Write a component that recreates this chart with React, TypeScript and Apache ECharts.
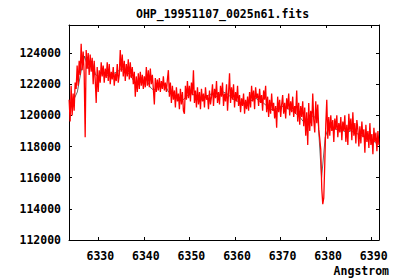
import React, { useEffect, useRef } from "react";
import * as echarts from "echarts";

const titleText = "OHP_19951107_0025n61.fits";
const xAxisName = "Angstrom";

const xTicks = [6330, 6340, 6350, 6360, 6370, 6380, 6390];
const yTicks = [112000, 114000, 116000, 118000, 120000, 122000, 124000];

// red spectrum: wavelength grid start / step (Angstrom)
const redStart = 6323.6;
const redStep = 0.22;
const redValues = [
  121000, 119600, 121900, 120000, 121400, 120300, 122100, 121700, 123200, 121900,
  123500, 122600, 124600, 122900, 124100, 122700, 118600, 124200, 123000, 124000,
  122600, 123900, 122800, 123700, 122000, 123500, 122300, 120800, 123100, 121500,
  122900, 122100, 123400, 122500, 123200, 122100, 123000, 122400, 123400, 122200,
  123300, 122000, 122800, 122300, 123100, 121900, 122700, 122200, 123300, 122100,
  122600, 124200, 122800, 123900, 122500, 123500, 122200, 123300, 122500, 123600,
  122300, 123400, 122400, 123100, 122000, 122800, 121200, 122500, 121500, 122700,
  121700, 122800, 121900, 122600, 121700, 122500, 121800, 123100, 121900, 122900,
  121800, 123000, 122000, 122600, 121700, 120700, 122400, 121500, 122300, 121600,
  122400, 121500, 122200, 121700, 122500, 121600, 122100, 121500, 122300, 122900,
  121200, 122100, 120800, 121900, 121000, 121600, 120500, 121800, 120900, 121400,
  120400, 121700, 120700, 121500, 120300, 120100, 121900, 121000, 122200, 121100,
  121900, 120900, 122100, 121300, 122900, 120800, 121600, 120500, 121800, 120700,
  121500, 120400, 121700, 120900, 121400, 120500, 121800, 121000, 121300, 120400,
  121600, 120700, 121200, 122000, 120600, 121700, 121100, 122200, 120800, 121500,
  120700, 121900, 121200, 122100, 120600, 121400, 120900, 122000, 120300, 121400,
  122700, 120800, 121800, 121000, 122000, 120500, 121500, 120900, 121900, 120600,
  121300, 120200, 121100, 120600, 121400, 120100, 121000, 120400, 121200, 120300,
  121500, 120500, 121900, 120900, 121600, 120400, 121800, 121100, 121400, 120600,
  121700, 120800, 121300, 120300, 121600, 121000, 121900, 120200, 121200, 119900,
  121000, 120100, 121400, 120300, 120800, 119800, 120600, 119200, 121200, 120200,
  121000, 119900, 120700, 121300, 120100, 120800, 119800, 121100, 120400, 121400,
  120000, 120900, 120200, 121200, 119900, 120600, 120100, 121600, 119600, 120800,
  119400, 120600, 119900, 120900, 119300, 120500, 118700, 120200, 118100, 120800,
  119000, 120300, 119300, 121400, 119700, 118900, 120900, 119500, 120700, 119100,
  118500, 117800, 115300, 114300, 114700, 116900, 119400, 121000, 118500, 119900,
  118700, 120000, 119000, 119700, 118300, 119800, 119100, 120000, 118600, 119500,
  118900, 119900, 118400, 119600, 119000, 120000, 118300, 119400, 118100, 120100,
  119000, 119800, 118400, 120200, 118700, 119500, 118200, 119700, 119100, 118000,
  119300, 118200, 119600, 118600, 119100, 117600, 119400, 118300, 119000, 117900,
  119500, 118100, 118800, 117500, 119200, 118300, 118900, 117700, 119000, 118100,
];

// black spectrum
const blackStart = 6323.8;
const blackStep = 0.8;
const blackValues = [
  120500, 121000, 121500, 122800, 123800, 123000, 123500, 122600, 122500, 122800,
  122600, 122500, 122700, 122800, 123000, 122900, 122700, 122400, 122000, 122100,
  122200, 122300, 121800, 121600, 121900, 121900, 122000, 121500, 121300, 121200,
  121000, 121000, 121200, 121500, 121300, 121100, 121000, 121200, 121300, 121400,
  121200, 121300, 121500, 121400, 121200, 121000, 120900, 120800, 120700, 120800,
  121000, 121100, 120900, 120800, 120600, 120400, 120300, 120500, 120600, 120500,
  120400, 120300, 120100, 119900, 119600, 119700, 120000, 119900, 119800, 116000,
  118600, 119300, 119200, 119100, 119000, 119000, 118900, 119000, 118900, 118800,
  118700, 118600, 118500, 118400, 118200,
];

const FONT = "DejaVu Sans Mono";

export default function App() {
  const ref = useRef<HTMLDivElement>(null);
  useEffect(() => {
    if (!ref.current) return;
    const chart = echarts.init(ref.current, null, { renderer: "svg" });
    const red = redValues.map((v, i) => [+(redStart + i * redStep).toFixed(3), v]);
    const black = blackValues.map((v, i) => [+(blackStart + i * blackStep).toFixed(3), v]);
    const labelStyle = {
      fontFamily: FONT,
      fontSize: 11.5,
      fontWeight: "bold" as const,
      color: "#000",
    };
    const plain = (v: number) => String(v);
    const axisLine = { show: true, lineStyle: { color: "#000", width: 1 } };
    const tick = (vals: number[]) => ({
      show: true,
      inside: true,
      length: 3,
      customValues: vals,
      lineStyle: { color: "#000" },
    });
    chart.setOption({
      animation: false,
      backgroundColor: "#fff",
      title: {
        text: titleText,
        left: 136,
        top: 8,
        padding: 0,
        textStyle: labelStyle,
      },
      grid: { left: 69, right: 21, top: 25, bottom: 40 },
      xAxis: [
        {
          type: "value",
          min: 6323.57,
          max: 6391.6,
          position: "bottom",
          axisLine,
          splitLine: { show: false },
          axisTick: tick(xTicks),
          axisLabel: {
            ...labelStyle,
            customValues: xTicks,
            formatter: plain,
            margin: 10,
            padding: [0, 0, 0, 4],
          },
        },
        {
          type: "value",
          min: 6323.57,
          max: 6391.6,
          position: "top",
          axisLine,
          splitLine: { show: false },
          axisTick: tick(xTicks),
          axisLabel: { show: false },
        },
      ],
      yAxis: [
        {
          type: "value",
          min: 112000,
          max: 125800,
          position: "left",
          axisLine,
          splitLine: { show: false },
          axisTick: tick(yTicks),
          axisLabel: { ...labelStyle, customValues: yTicks, formatter: plain, margin: 8 },
        },
        {
          type: "value",
          min: 112000,
          max: 125800,
          position: "right",
          axisLine,
          splitLine: { show: false },
          axisTick: tick(yTicks),
          axisLabel: { show: false },
        },
      ],
      graphic: [
        {
          type: "text",
          right: 11,
          top: 265,
          style: {
            text: xAxisName,
            fontFamily: FONT,
            fontSize: 11.5,
            fontWeight: "bold",
            fill: "#000",
          },
        },
      ],
      series: [
        {
          type: "line",
          data: black,
          showSymbol: false,
          lineStyle: { color: "#000", width: 0.6 },
          z: 2,
          clip: true,
        },
        {
          type: "line",
          data: red,
          showSymbol: false,
          lineStyle: { color: "#ff0000", width: 1.3 },
          z: 3,
          clip: true,
        },
      ],
    });
    return () => chart.dispose();
  }, []);
  return (
    <div
      ref={ref}
      style={{ position: "fixed", left: 0, top: 0, width: 400, height: 280 }}
    />
  );
}
